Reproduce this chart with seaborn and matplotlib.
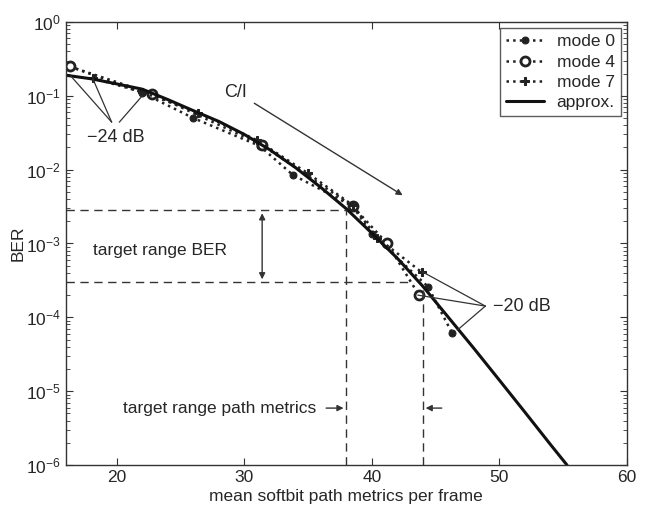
import matplotlib
matplotlib.use("Agg")
import matplotlib.pyplot as plt
import numpy as np
import seaborn as sns

# values
mode0_x = [16.3, 22.0, 26.0, 31.2, 33.8, 38.5, 40.0, 44.4, 46.3]
mode0_ber = [2.5e-1, 1.1e-1, 5.0e-2, 2.1e-2, 8.5e-3, 3.2e-3, 1.34e-3, 2.6e-4, 6.1e-5]

mode4_x = [16.3, 22.8, 31.4, 38.5, 41.2, 43.7]
mode4_ber = [2.5e-1, 1.06e-1, 2.15e-2, 3.2e-3, 1.0e-3, 2.0e-4]

mode7_x = [18.1, 22.0, 26.4, 31.0, 35.0, 38.5, 40.4, 43.9]
mode7_ber = [1.74e-1, 1.12e-1, 5.9e-2, 2.5e-2, 8.9e-3, 3.3e-3, 1.2e-3, 4.1e-4]

approx_x = [16, 18, 20, 22, 24, 26, 28, 30, 32, 34, 36, 38, 40, 42, 44, 46, 48, 50, 52, 54, 55.3]
approx_ber = [1.9e-1, 1.7e-1, 1.45e-1, 1.23e-1, 8.9e-2, 6.3e-2, 4.5e-2, 3.0e-2, 1.86e-2,
              1.07e-2, 5.75e-3, 2.95e-3, 1.38e-3, 6.3e-4, 2.63e-4, 1.0e-4, 3.8e-5,
              1.41e-5, 5.2e-6, 1.9e-6, 1.0e-6]

ber_hi, ber_lo = 2.8e-3, 3.0e-4
pm_lo, pm_hi = 38.0, 44.0

sns.set_style("ticks")
plt.rcParams["font.family"] = ["Liberation Sans", "DejaVu Sans"]
plt.rcParams["font.size"] = 12.5
plt.rcParams["xtick.direction"] = "in"
plt.rcParams["ytick.direction"] = "in"

fig = plt.figure(figsize=(6.51, 5.11), dpi=100)
ax = fig.add_axes([0.101, 0.09, 0.862, 0.867])

sns.lineplot(x=mode0_x, y=mode0_ber, ax=ax, color="#222222", linestyle=":",
             linewidth=1.8, marker="o", markersize=5, markeredgecolor="#222222",
             label="mode 0", sort=False)
sns.lineplot(x=mode4_x, y=mode4_ber, ax=ax, color="#222222", linestyle=":",
             linewidth=1.8, marker="o", markersize=6.5, markerfacecolor="white",
             markeredgecolor="#222222", markeredgewidth=2, label="mode 4", sort=False)
sns.lineplot(x=mode7_x, y=mode7_ber, ax=ax, color="#222222", linestyle=":",
             linewidth=1.8, marker="P", markersize=5.5, markeredgecolor="#222222",
             label="mode 7", sort=False)
sns.lineplot(x=approx_x, y=approx_ber, ax=ax, color="#111111", linewidth=2.2,
             label="approx.", sort=False)

ax.set_yscale("log")
ax.set_xlim(16, 60)
ax.set_ylim(1e-6, 1)
ax.set_xticks([20, 30, 40, 50, 60])
ax.tick_params(which="both", top=True, right=True, color="#333333", labelsize=12.5)
ax.tick_params(which="major", length=5)
ax.tick_params(which="minor", length=3)
ax.set_xlabel("mean softbit path metrics per frame", labelpad=3)
ax.set_ylabel("BER", labelpad=0)
for s in ax.spines.values():
    s.set_linewidth(1.0)
    s.set_color("#333333")

dash = dict(color="#333333", linestyle=(0, (6, 4)), linewidth=1.0)
ax.plot([16, pm_lo], [ber_hi, ber_hi], **dash)
ax.plot([16, 43.2], [ber_lo, ber_lo], **dash)
ax.plot([pm_lo, pm_lo], [1e-6, ber_hi], **dash)
ax.plot([pm_hi, pm_hi], [1e-6, 2.5e-4], **dash)

arr = dict(arrowstyle="-|>", color="#333333", lw=1.0, mutation_scale=9)
ax.annotate("", xy=(31.4, ber_lo), xytext=(31.4, ber_hi),
            arrowprops=dict(arrowstyle="<|-|>", color="#333333", lw=1.0, mutation_scale=9))
ax.text(18.1, 8.1e-4, "target range BER", va="center", ha="left")

ax.annotate("", xy=(pm_lo, 5.9e-6), xytext=(36.2, 5.9e-6), arrowprops=arr)
ax.annotate("", xy=(pm_hi, 5.9e-6), xytext=(45.7, 5.9e-6), arrowprops=arr)
ax.text(20.5, 5.9e-6, "target range path metrics", va="center", ha="left")

ax.annotate("", xy=(42.6, 4.3e-3), xytext=(30.6, 8.3e-2), arrowprops=arr)
ax.text(29.3, 1.1e-1, "C/I", va="center", ha="center", fontsize=13)

thin = dict(color="#333333", linewidth=0.9)
ax.plot([19.6, 16.4], [4.4e-2, 1.85e-1], **thin)
ax.plot([19.6, 18.1], [4.4e-2, 1.74e-1], **thin)
ax.plot([20.2, 22.0], [4.4e-2, 1.0e-1], **thin)
ax.text(19.9, 2.7e-2, "\u221224 dB", va="center", ha="center", fontsize=13)

ax.plot([48.9, 44.0], [1.42e-4, 4.1e-4], **thin)
ax.plot([48.9, 43.6], [1.42e-4, 2.0e-4], **thin)
ax.plot([48.9, 46.7], [1.42e-4, 6.7e-5], **thin)
ax.text(49.5, 1.42e-4, "\u221220 dB", va="center", ha="left", fontsize=13)

leg = ax.legend(loc="upper right", frameon=True, fancybox=False, borderpad=0.35,
                handlelength=2.2, handletextpad=0.7, labelspacing=0.3,
                borderaxespad=0.35, fontsize=12.5)
leg.get_frame().set_edgecolor("#333333")
leg.get_frame().set_linewidth(1.0)

fig.savefig("out.png", dpi=100)
